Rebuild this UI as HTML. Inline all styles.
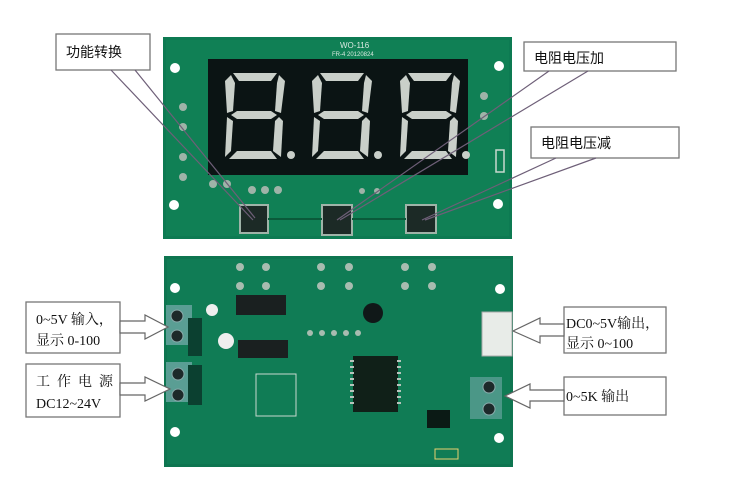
<!DOCTYPE html>
<html><head><meta charset="utf-8"><style>
html,body{margin:0;padding:0;background:#fff;width:743px;height:494px;overflow:hidden}
svg{display:block}
text{font-family:"Liberation Serif","Noto Serif CJK SC","Noto Sans CJK SC",serif;fill:#111}
.s{font-family:"Liberation Sans","Noto Sans CJK SC",sans-serif}
</style></head><body>
<svg width="743" height="494" viewBox="0 0 743 494" xmlns="http://www.w3.org/2000/svg">
<defs>
<g id="seg">
 <polygon points="6,0 54,0 48,8 12,8" />
</g>
</defs>
<!-- TOP BOARD -->
<rect x="163" y="37" width="349" height="202" fill="#0d7a52"/>
<rect x="166" y="40" width="343" height="196" fill="#128459" opacity="0.6"/>
<text x="340" y="48" font-size="8" class="s" style="fill:#d8e8e0">WO-116</text>
<text x="332" y="56" font-size="6" class="s" style="fill:#d8e8e0">FR-4  20120824</text>
<circle cx="175" cy="68" r="5" fill="#fff"/><circle cx="499" cy="66" r="5" fill="#fff"/>
<circle cx="174" cy="205" r="5" fill="#fff"/><circle cx="498" cy="204" r="5" fill="#fff"/>
<rect x="208" y="59" width="260" height="116" fill="#0b1414"/>
<g fill="#c9cfc9">
 <!-- digit 1 -->
 <g transform="translate(225,73)">
  <polygon points="8,0 52,0 46,8 14,8"/><polygon points="54,2 60,8 56,40 50,38 52,10"/>
  <polygon points="0,8 6,2 10,10 8,38 2,40"/><polygon points="6,42 12,38 46,38 52,42 46,46 12,46"/>
  <polygon points="2,44 8,48 6,78 0,84"/><polygon points="54,44 58,48 56,84 48,78 50,48"/>
  <polygon points="6,84 12,78 46,78 52,86 4,86"/>
  <circle cx="66" cy="82" r="4"/>
 </g>
 <g transform="translate(312,73)">
  <polygon points="8,0 52,0 46,8 14,8"/><polygon points="54,2 60,8 56,40 50,38 52,10"/>
  <polygon points="0,8 6,2 10,10 8,38 2,40"/><polygon points="6,42 12,38 46,38 52,42 46,46 12,46"/>
  <polygon points="2,44 8,48 6,78 0,84"/><polygon points="54,44 58,48 56,84 48,78 50,48"/>
  <polygon points="6,84 12,78 46,78 52,86 4,86"/>
  <circle cx="66" cy="82" r="4"/>
 </g>
 <g transform="translate(400,73)">
  <polygon points="8,0 52,0 46,8 14,8"/><polygon points="54,2 60,8 56,40 50,38 52,10"/>
  <polygon points="0,8 6,2 10,10 8,38 2,40"/><polygon points="6,42 12,38 46,38 52,42 46,46 12,46"/>
  <polygon points="2,44 8,48 6,78 0,84"/><polygon points="54,44 58,48 56,84 48,78 50,48"/>
  <polygon points="6,84 12,78 46,78 52,86 4,86"/>
  <circle cx="66" cy="82" r="4"/>
 </g>
</g>
<g fill="#9fb3a8"><circle cx="183" cy="107" r="4"/><circle cx="183" cy="127" r="4"/><circle cx="183" cy="157" r="4"/><circle cx="183" cy="177" r="4"/>
<circle cx="213" cy="184" r="4"/><circle cx="227" cy="184" r="4"/><circle cx="252" cy="190" r="4"/><circle cx="265" cy="190" r="4"/><circle cx="278" cy="190" r="4"/>
<circle cx="362" cy="191" r="3"/><circle cx="377" cy="191" r="3"/><circle cx="484" cy="96" r="4"/><circle cx="484" cy="116" r="4"/></g>
<rect x="496" y="150" width="8" height="22" fill="none" stroke="#c8d8cf" stroke-width="1.5"/>
<g fill="#1c2a26" stroke="#9fb3a8" stroke-width="2">
 <rect x="240" y="205" width="28" height="28"/><rect x="322" y="205" width="30" height="30"/><rect x="406" y="205" width="30" height="28"/>
</g>
<path d="M268 219 H322 M352 219 H406" stroke="#0a5a3a" stroke-width="2"/>
<!-- BOTTOM BOARD -->
<rect x="164" y="256" width="349" height="211" fill="#0e7550"/>
<rect x="167" y="259" width="343" height="205" fill="#128459" opacity="0.5"/>
<circle cx="175" cy="288" r="5" fill="#fff"/><circle cx="500" cy="289" r="5" fill="#fff"/>
<circle cx="175" cy="432" r="5" fill="#fff"/><circle cx="499" cy="438" r="5" fill="#fff"/>
<rect x="166" y="305" width="26" height="40" fill="#5a9e94"/><rect x="166" y="362" width="26" height="40" fill="#5a9e94"/>
<g fill="#1d2a2a" stroke="#8aa" stroke-width="1"><circle cx="177" cy="316" r="6"/><circle cx="177" cy="336" r="6"/><circle cx="178" cy="374" r="6"/><circle cx="178" cy="395" r="6"/>
<circle cx="489" cy="387" r="6"/><circle cx="489" cy="409" r="6"/></g>
<rect x="470" y="377" width="32" height="42" fill="#5a9e94" opacity="0.8"/>
<g fill="#1d2a2a" stroke="#8aa"><circle cx="489" cy="387" r="6"/><circle cx="489" cy="409" r="6"/></g>
<rect x="482" y="312" width="30" height="44" fill="#e8ece8" stroke="#aaa"/>
<rect x="353" y="356" width="45" height="56" fill="#102018"/>
<g fill="#b8c4bc"><rect x="350" y="360" width="4" height="2"/><rect x="350" y="366" width="4" height="2"/><rect x="350" y="372" width="4" height="2"/><rect x="350" y="378" width="4" height="2"/><rect x="350" y="384" width="4" height="2"/><rect x="350" y="390" width="4" height="2"/><rect x="350" y="396" width="4" height="2"/><rect x="350" y="402" width="4" height="2"/>
<rect x="397" y="360" width="4" height="2"/><rect x="397" y="366" width="4" height="2"/><rect x="397" y="372" width="4" height="2"/><rect x="397" y="378" width="4" height="2"/><rect x="397" y="384" width="4" height="2"/><rect x="397" y="390" width="4" height="2"/><rect x="397" y="396" width="4" height="2"/><rect x="397" y="402" width="4" height="2"/></g>
<rect x="236" y="295" width="50" height="20" fill="#1a2020"/><rect x="238" y="340" width="50" height="18" fill="#1a2020"/>
<circle cx="212" cy="310" r="6" fill="#eee"/><circle cx="226" cy="341" r="8" fill="#eee"/>
<circle cx="373" cy="313" r="10" fill="#101818"/>
<rect x="256" y="374" width="40" height="42" fill="none" stroke="#c8d8cf"/>
<rect x="188" y="318" width="14" height="38" fill="#0b4030"/><rect x="188" y="365" width="14" height="40" fill="#0b4030"/>
<rect x="427" y="410" width="23" height="18" fill="#0b1a15"/>
<rect x="435" y="449" width="23" height="10" fill="none" stroke="#e8d070"/>
<g fill="#a8bcb0"><circle cx="240" cy="267" r="4"/><circle cx="266" cy="267" r="4"/><circle cx="321" cy="267" r="4"/><circle cx="349" cy="267" r="4"/><circle cx="405" cy="267" r="4"/><circle cx="432" cy="267" r="4"/>
<circle cx="240" cy="286" r="4"/><circle cx="266" cy="286" r="4"/><circle cx="321" cy="286" r="4"/><circle cx="349" cy="286" r="4"/><circle cx="405" cy="286" r="4"/><circle cx="432" cy="286" r="4"/>
<circle cx="310" cy="333" r="3"/><circle cx="322" cy="333" r="3"/><circle cx="334" cy="333" r="3"/><circle cx="346" cy="333" r="3"/><circle cx="358" cy="333" r="3"/></g>
<!-- LABEL BOXES -->
<g fill="#fff" stroke="#777" stroke-width="1.3">
 <rect x="56" y="34" width="94" height="36"/>
 <rect x="524" y="42" width="152" height="29"/>
 <rect x="531" y="127" width="148" height="31"/>
 <rect x="26" y="302" width="94" height="51"/>
 <rect x="26" y="364" width="94" height="53"/>
 <rect x="564" y="307" width="102" height="46"/>
 <rect x="564" y="377" width="102" height="38"/>
</g>
<!-- leader lines -->
<g stroke="#6e5f78" stroke-width="1.2">
 <line x1="111" y1="70" x2="253" y2="220"/><line x1="135" y1="70" x2="255" y2="218"/>
 <line x1="549" y1="71" x2="337" y2="220"/><line x1="588" y1="71" x2="340" y2="220"/>
 <line x1="556" y1="158" x2="422" y2="220"/><line x1="596" y1="158" x2="425" y2="220"/>
</g>
<!-- hollow arrows -->
<g fill="#fff" stroke="#666" stroke-width="1.2">
 <polygon points="120,321 145,321 145,315 168,327 145,339 145,333 120,333"/>
 <polygon points="120,383 145,383 145,377 170,389 145,401 145,395 120,395"/>
 <polygon points="564,324 540,324 540,318 513,331 540,343 540,336 564,336"/>
 <polygon points="564,390 530,390 530,384 505,396 530,408 530,401 564,401"/>
</g>
<!-- texts -->
<text class="s" x="66" y="57" font-size="14">功能转换</text>
<text class="s" x="534" y="63" font-size="14">电阻电压加</text>
<text class="s" x="541" y="148" font-size="14">电阻电压减</text>
<text x="36" y="324" font-size="14">0~5V 输入，</text>
<text x="36" y="345" font-size="14">显示 0-100</text>
<text x="36" y="386" font-size="14" letter-spacing="7">工作电源</text>
<text x="36" y="408" font-size="14">DC12~24V</text>
<text x="566" y="328" font-size="14">DC0~5V输出，</text>
<text x="566" y="348" font-size="14">显示 0~100</text>
<text x="566" y="401" font-size="14">0~5K 输出</text>
</svg>
</body></html>
